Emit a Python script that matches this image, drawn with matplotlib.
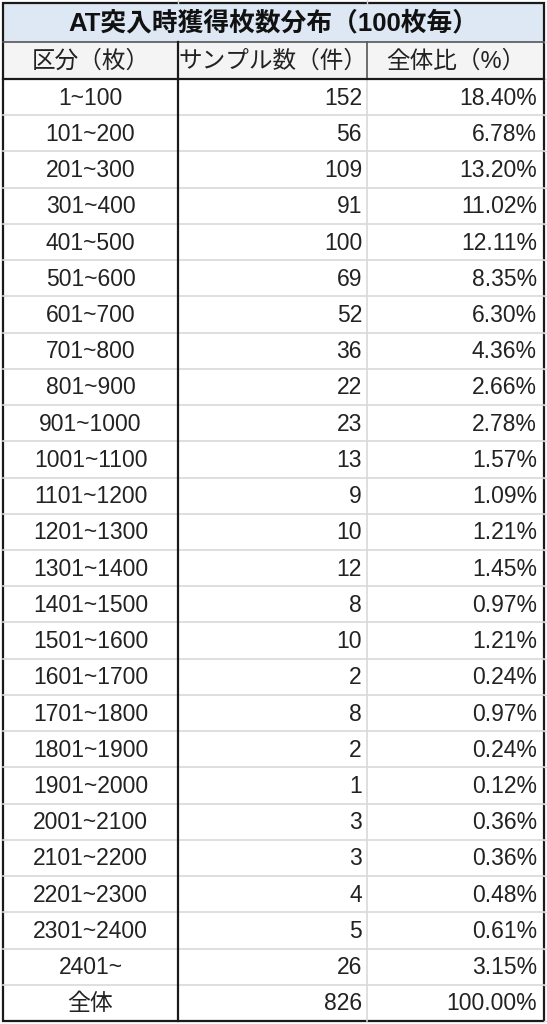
import matplotlib
matplotlib.use("Agg")
import matplotlib.pyplot as plt
from matplotlib.patches import Rectangle

plt.rcParams['font.family'] = ['Liberation Sans', 'Noto Sans CJK JP', 'DejaVu Sans']

title = "AT突入時獲得枚数分布（100枚毎）"
headers = ["区分（枚）", "サンプル数（件）", "全体比（%）"]
ranges = ["1~100", "101~200", "201~300", "301~400", "401~500", "501~600", "601~700",
          "701~800", "801~900", "901~1000", "1001~1100", "1101~1200", "1201~1300",
          "1301~1400", "1401~1500", "1501~1600", "1601~1700", "1701~1800", "1801~1900",
          "1901~2000", "2001~2100", "2101~2200", "2201~2300", "2301~2400", "2401~", "全体"]
counts = [152, 56, 109, 91, 100, 69, 52, 36, 22, 23, 13, 9, 10, 12, 8, 10, 2, 8, 2, 1,
          3, 3, 4, 5, 26, 826]
shares = ["18.40%", "6.78%", "13.20%", "11.02%", "12.11%", "8.35%", "6.30%", "4.36%",
          "2.66%", "2.78%", "1.57%", "1.09%", "1.21%", "1.45%", "0.97%", "1.21%", "0.24%",
          "0.97%", "0.24%", "0.12%", "0.36%", "0.36%", "0.48%", "0.61%", "3.15%", "100.00%"]

W, H = 547, 1024
fig = plt.figure(figsize=(W / 100, H / 100), dpi=100)
ax = fig.add_axes([0, 0, 1, 1])
ax.set_xlim(0, W)
ax.set_ylim(H, 0)
ax.axis("off")

x0, x1, x2, x3 = 3, 178, 367, 544
y_top, y_title, y_head = 3, 42, 79
row_h = (1021 - y_head) / len(ranges)
y_bot = y_head + row_h * len(ranges)

light = "#d9d9d9"
dark = "#1a1a1a"

# spreadsheet grid outside the table
for x in (x1, x2):
    ax.plot([x, x], [0, y_top], color=light, lw=1)
for i in range(len(ranges) + 1):
    y = y_head + i * row_h
    ax.plot([x3, W], [y, y], color=light, lw=1)
ax.plot([x3, W], [y_title, y_title], color=light, lw=1)

# backgrounds
ax.add_patch(Rectangle((x0, y_top), x3 - x0, y_title - y_top, facecolor="#dde8f4", edgecolor="none"))
ax.add_patch(Rectangle((x0, y_title), x3 - x0, y_head - y_title, facecolor="#f4f4f4", edgecolor="none"))

# inner grid lines
for i in range(1, len(ranges)):
    y = y_head + i * row_h
    ax.plot([x0, x3], [y, y], color=light, lw=1.2)
ax.plot([x2, x2], [y_head, y_bot], color=light, lw=1.2)
ax.plot([x2, x2], [y_title, y_head], color="#555555", lw=1.2)

# dark borders
ax.plot([x0, x3], [y_title, y_title], color="#555555", lw=1.2)
ax.plot([x0, x3], [y_head, y_head], color=dark, lw=1.6)
ax.plot([x1, x1], [y_title, y_bot], color=dark, lw=1.6)
ax.add_patch(Rectangle((x0, y_top), x3 - x0, y_bot - y_top, facecolor="none", edgecolor=dark, lw=1.6))

fs = 16.5
ax.text((x0 + x3) / 2, (y_top + y_title) / 2 + 1, title, ha="center", va="center",
        fontsize=18.5, fontweight="bold", color="#111111")
hy = (y_title + y_head) / 2 + 1
ax.text((x0 + x1) / 2, hy, headers[0], ha="center", va="center", fontsize=17, color="#222222")
ax.text((x1 + x2) / 2, hy, headers[1], ha="center", va="center", fontsize=17, color="#222222")
ax.text((x2 + x3) / 2, hy, headers[2], ha="center", va="center", fontsize=17, color="#222222")

for i, (r, c, s) in enumerate(zip(ranges, counts, shares)):
    yc = y_head + (i + 0.5) * row_h + 1
    ax.text((x0 + x1) / 2, yc, r, ha="center", va="center", fontsize=fs, color="#222222")
    ax.text(x2 - 5, yc, str(c), ha="right", va="center", fontsize=fs, color="#222222")
    ax.text(x3 - 7, yc, s, ha="right", va="center", fontsize=fs, color="#222222")

fig.savefig("out.png", dpi=100)
